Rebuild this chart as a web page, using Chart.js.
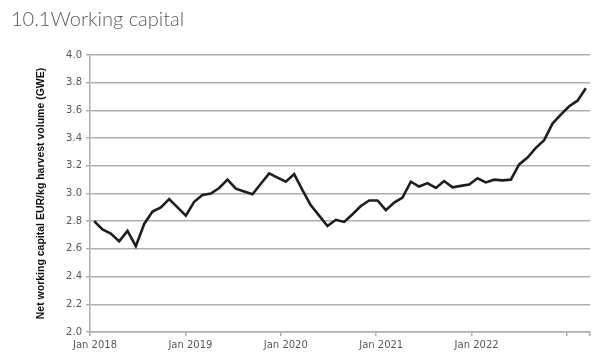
<!DOCTYPE html>
<html>
<head>
<meta charset="utf-8">
<script src="https://cdn.jsdelivr.net/npm/chart.js@4/dist/chart.umd.min.js"></script>
<style>
  html, body { margin: 0; padding: 0; background: #ffffff; }
  #wrap { position: relative; width: 605px; height: 356px; overflow: hidden; }
  #title { position: absolute; left: 11px; top: 6px; font-family: Lato, "Liberation Sans", sans-serif; font-weight: 300; font-size: 20px; color: #595959; white-space: nowrap; }
  #c { position: absolute; left: 0; top: 0; }
</style>
</head>
<body>
<div id="wrap">
  <canvas id="c" width="605" height="356"></canvas>
  <div id="title">10.1Working capital</div>
</div>
<script>
// ---- data ----
const yearLabels = ['Jan 2018', 'Jan 2019', 'Jan 2020', 'Jan 2021', 'Jan 2022'];
const yTicks = [2.0, 2.2, 2.4, 2.6, 2.8, 3.0, 3.2, 3.4, 3.6, 3.8, 4.0];
const periods = [];
for (let y = 2018; y <= 2022; y++) for (let m = 1; m <= 12; m++) periods.push(y + '-' + String(m).padStart(2, '0'));
const workingCapital = [
  2.80, 2.74, 2.71, 2.655, 2.73, 2.62, 2.78, 2.87, 2.90, 2.96, 2.90, 2.84,
  2.94, 2.99, 3.00, 3.04, 3.10, 3.035, 3.015, 2.995, 3.07, 3.145, 3.115, 3.085,
  3.14, 3.025, 2.915, 2.84, 2.765, 2.81, 2.795, 2.85, 2.91, 2.95, 2.95, 2.88,
  2.935, 2.97, 3.085, 3.05, 3.075, 3.04, 3.09, 3.045, 3.055, 3.065, 3.11, 3.08,
  3.10, 3.095, 3.10, 3.21, 3.26, 3.33, 3.385, 3.505, 3.57, 3.63, 3.67, 3.76
];

const gridCol = '#aeaeae';
const tickFont = { family: '"DejaVu Sans", sans-serif', size: 10 };
const yearSpan = 5.241; // axis extent in years

new Chart(document.getElementById('c'), {
  type: 'line',
  data: {
    labels: periods,
    datasets: [{
      data: workingCapital,
      borderColor: '#1e1e1e',
      borderWidth: 2.6,
      pointRadius: 0,
      tension: 0,
      fill: false,
      xAxisID: 'x',
      yAxisID: 'y'
    }]
  },
  options: {
    responsive: false,
    animation: false,
    layout: { padding: { left: 0, right: 15, top: 55, bottom: 0 } },
    plugins: { legend: { display: false }, tooltip: { enabled: false } },
    scales: {
      x: {
        type: 'category',
        display: false,
        offset: true
      },
      x2: {
        type: 'linear',
        position: 'bottom',
        min: 0,
        max: yearSpan,
        afterBuildTicks: s => { s.ticks = [0, 1, 2, 3, 4, 5, yearSpan].map(v => ({ value: v })); },
        afterFit: s => { s.height = 24; },
        grid: { drawOnChartArea: false, color: gridCol, lineWidth: 1.5, tickLength: 4 },
        border: { display: true, color: gridCol, width: 1.5 },
        ticks: {
          autoSkip: false,
          maxRotation: 0,
          color: '#595959',
          font: tickFont,
          padding: 3,
          labelOffset: 5,
          callback: v => (Number.isInteger(v) && v < yearLabels.length) ? yearLabels[v] : ''
        }
      },
      y: {
        type: 'linear',
        min: 2.0,
        max: 4.0,
        afterBuildTicks: s => { s.ticks = yTicks.map(v => ({ value: v })); },
        afterFit: s => { s.width = 90; },
        grid: { color: gridCol, lineWidth: 1.5, tickLength: 4 },
        border: { display: true, color: gridCol, width: 1.5 },
        ticks: {
          color: '#595959',
          font: tickFont,
          padding: 4,
          callback: v => Number(v).toFixed(1)
        },
        title: {
          display: true,
          text: 'Net working capital EUR/kg harvest volume (GWE)',
          color: '#111111',
          font: { family: '"Liberation Sans", Arial, sans-serif', size: 10.5, weight: 'bold' },
          padding: { top: 35, bottom: 0 }
        }
      }
    }
  }
});
</script>
</body>
</html>
